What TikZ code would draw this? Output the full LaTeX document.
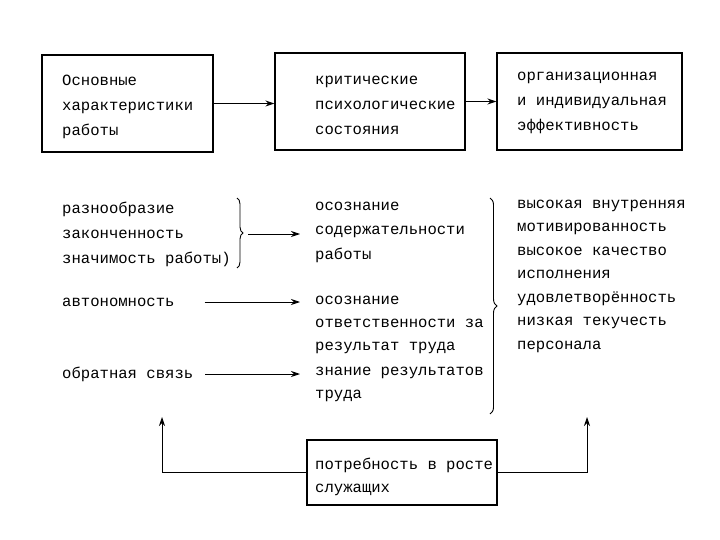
\documentclass[tikz,border=0pt]{standalone}
\usepackage{fontspec}
\newfontfamily\tw{Liberation Mono}
\usetikzlibrary{arrows.meta,decorations.pathreplacing}
\begin{document}
\begin{tikzpicture}[x=1pt,y=-1pt,
  box/.style={draw,line width=1.1pt,inner sep=0pt},
  txt/.style={inner sep=0pt,anchor=west,align=left,font=\tw\fontsize{15.6}{#1}\selectfont},
  txt/.default=25,
  arr/.style={line width=0.9pt,-{Stealth[length=9pt,width=6pt]}},
  brc/.style={line width=0.9pt,decorate,decoration={brace,amplitude=#1}}]
\useasboundingbox (0,0) rectangle (720,540);
% top boxes
\node[box,minimum width=171pt,minimum height=97pt] (b1) at (127.5,103.5) {};
\node[box,minimum width=190pt,minimum height=97pt] (b2) at (370,101.5) {};
\node[box,minimum width=185pt,minimum height=97pt] (b3) at (589.5,101.5) {};
\node[txt] (t1) at (62,107) {Основные\\характеристики\\работы};
\node[txt] (t2) at (315,105) {критические\\психологические\\состояния};
\node[txt] (t3) at (517,103) {организационная\\и индивидуальная\\эффективность};
\draw[arr] (b1.east) -- (b1.east -| b2.west);
\draw[arr] (b2.east) -- (b3.west);
% left column
\node[txt] (L) at (62,234) {разнообразие\\законченность\\значимость работы)};
\node[txt] (A) at (62,302) {автономность};
\node[txt] (O) at (62,374) {обратная связь};
% middle column
\node[txt=24.5] (M1) at (315,232) {осознание\\содержательности\\работы};
\node[txt=23] (M2) at (315,325) {осознание\\ответственности за\\результат труда};
\node[txt=23] (M3) at (315,384) {знание результатов\\труда};
% right column
\node[txt=23.5] (R) at (517,276) {высокая внутренняя\\мотивированность\\высокое качество\\исполнения\\удовлетворённость\\низкая текучесть\\персонала};
% braces
\draw[brc=6pt] (237,198) -- (237,268);
\coordinate (bt) at (248,234);
\draw[brc=7pt] (490,198) -- (490,414);
% arrows to middle
\draw[arr,shorten >=15pt] (bt) -- (bt -| M1.west);
\draw[arr,shorten <=30pt,shorten >=15pt] (A.east) -- (A.east -| M2.west);
\draw[arr,shorten <=12pt,shorten >=15pt] (O.east) -- (O.east -| M3.west);
% bottom box
\node[box,minimum width=190pt,minimum height=65pt] (B) at (402,472.5) {};
\node[txt=23] (Bt) at (315,476.5) {потребность в росте\\служащих};
\coordinate (lt) at (162,417);
\coordinate (rt) at (587,417);
\draw[arr] (B.west) -| (lt);
\draw[arr] (B.east) -| (rt);
\end{tikzpicture}
\end{document}
